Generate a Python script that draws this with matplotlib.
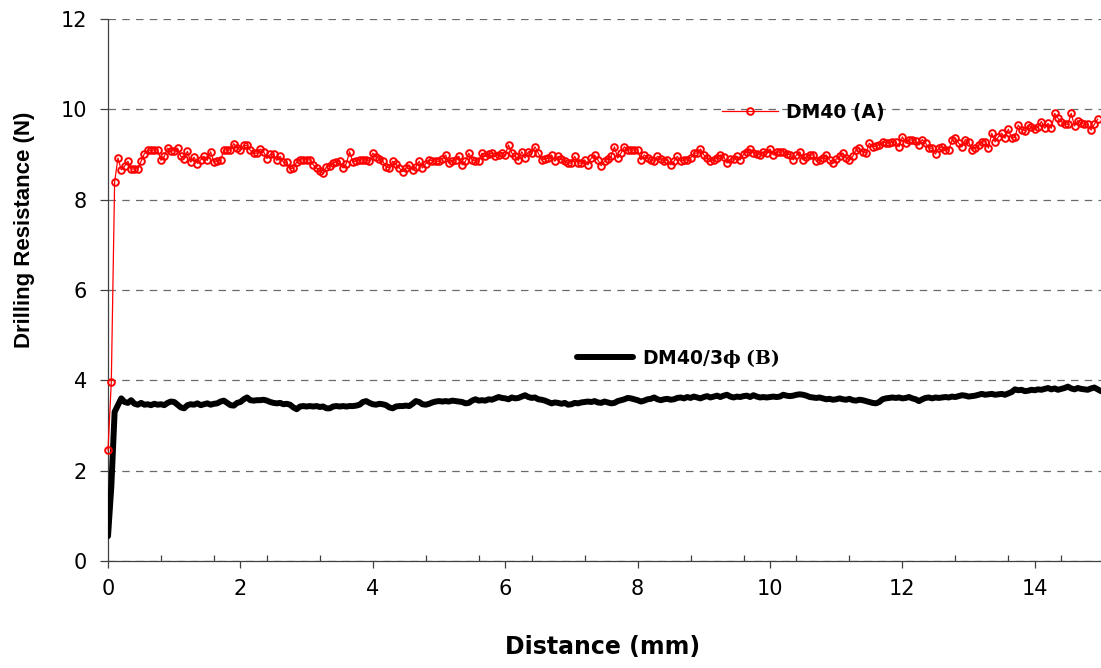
import numpy as np
import matplotlib
matplotlib.use("Agg")
import matplotlib.pyplot as plt
from matplotlib.ticker import MultipleLocator

plt.rcParams['font.family'] = ['DejaVu Sans']
plt.rcParams['mathtext.fontset'] = 'custom'
plt.rcParams['mathtext.bf'] = 'DejaVu Serif:bold'
plt.rcParams['mathtext.rm'] = 'DejaVu Serif'

STEP_MM = 0.05  # sampling step of the drilling record

# DM40 (A), one row per mm
resist_a = [
    2.45, 3.97, 8.39, 8.92, 8.66, 8.74, 8.85, 8.68, 8.68, 8.68, 8.85, 9.02, 9.09, 9.10, 9.10, 9.10, 8.87, 8.96, 9.14, 9.08,
    9.08, 9.14, 8.96, 8.91, 9.07, 8.83, 8.94, 8.80, 8.88, 8.96, 8.87, 9.06, 8.83, 8.85, 8.87, 9.10, 9.10, 9.10, 9.24, 9.15,
    9.09, 9.20, 9.20, 9.09, 9.03, 9.03, 9.12, 9.06, 8.91, 9.00, 9.00, 8.87, 8.96, 8.83, 8.83, 8.68, 8.70, 8.83, 8.88, 8.88,
    8.88, 8.88, 8.77, 8.70, 8.64, 8.58, 8.73, 8.75, 8.81, 8.83, 8.85, 8.70, 8.80, 9.06, 8.83, 8.86, 8.88, 8.88, 8.88, 8.85,
    9.03, 8.95, 8.90, 8.85, 8.73, 8.70, 8.85, 8.78, 8.70, 8.62, 8.70, 8.77, 8.66, 8.72, 8.85, 8.70, 8.80, 8.88, 8.86, 8.85,
    8.85, 8.90, 8.99, 8.81, 8.85, 8.88, 8.96, 8.77, 8.85, 9.03, 8.88, 8.85, 8.85, 9.03, 8.96, 9.00, 9.03, 8.96, 8.99, 9.03,
    8.99, 9.21, 9.03, 8.96, 8.87, 9.06, 8.92, 9.06, 9.03, 9.17, 9.03, 8.88, 8.90, 8.92, 8.99, 8.85, 8.96, 8.90, 8.85, 8.81,
    8.81, 8.96, 8.81, 8.81, 8.88, 8.77, 8.92, 8.99, 8.88, 8.75, 8.85, 8.90, 8.96, 9.17, 8.92, 9.03, 9.17, 9.10, 9.10, 9.10,
    9.10, 8.88, 8.99, 8.92, 8.88, 8.85, 8.96, 8.90, 8.85, 8.88, 8.77, 8.85, 8.96, 8.85, 8.88, 8.88, 8.92, 9.03, 9.03, 9.12,
    8.99, 8.92, 8.85, 8.88, 8.92, 8.99, 8.95, 8.81, 8.90, 8.90, 8.96, 8.88, 9.00, 9.06, 9.12, 9.03, 9.00, 8.99, 9.06, 9.03,
    9.12, 8.99, 9.06, 9.05, 9.06, 9.02, 8.99, 8.88, 8.99, 9.06, 8.88, 8.95, 8.99, 8.99, 8.85, 8.88, 8.92, 8.99, 8.88, 8.81,
    8.90, 8.96, 9.03, 8.92, 8.88, 8.96, 9.10, 9.14, 9.06, 9.03, 9.25, 9.17, 9.19, 9.21, 9.28, 9.26, 9.25, 9.27, 9.28, 9.17,
    9.39, 9.25, 9.32, 9.32, 9.30, 9.21, 9.33, 9.25, 9.14, 9.14, 9.01, 9.14, 9.17, 9.10, 9.10, 9.32, 9.36, 9.25, 9.17, 9.33,
    9.28, 9.10, 9.15, 9.21, 9.28, 9.28, 9.14, 9.47, 9.28, 9.39, 9.47, 9.36, 9.56, 9.36, 9.38, 9.65, 9.55, 9.53, 9.65, 9.60,
    9.56, 9.61, 9.73, 9.58, 9.69, 9.58, 9.91, 9.80, 9.73, 9.67, 9.67, 9.91, 9.63, 9.75, 9.69, 9.67, 9.67, 9.54, 9.67, 9.78,
]

# DM40/3phi (B), one row per mm
resist_b = [
    0.55, 1.65, 3.30, 3.45, 3.60, 3.52, 3.50, 3.56, 3.48, 3.46, 3.50, 3.46, 3.47, 3.45, 3.48, 3.46, 3.47, 3.45, 3.50, 3.53,
    3.52, 3.46, 3.40, 3.38, 3.45, 3.47, 3.46, 3.49, 3.45, 3.47, 3.49, 3.46, 3.48, 3.49, 3.53, 3.55, 3.50, 3.45, 3.44, 3.50,
    3.52, 3.58, 3.62, 3.56, 3.55, 3.56, 3.56, 3.57, 3.55, 3.52, 3.50, 3.49, 3.50, 3.47, 3.48, 3.46, 3.40, 3.36, 3.42, 3.43,
    3.42, 3.43, 3.42, 3.43, 3.41, 3.42, 3.38, 3.38, 3.42, 3.43, 3.42, 3.43, 3.42, 3.43, 3.43, 3.44, 3.46, 3.52, 3.54, 3.50,
    3.47, 3.46, 3.48, 3.47, 3.45, 3.40, 3.38, 3.42, 3.43, 3.43, 3.44, 3.43, 3.48, 3.54, 3.52, 3.47, 3.46, 3.48, 3.51, 3.53,
    3.54, 3.53, 3.54, 3.53, 3.55, 3.54, 3.53, 3.52, 3.49, 3.50, 3.55, 3.58, 3.55, 3.56, 3.55, 3.58, 3.57, 3.60, 3.63, 3.61,
    3.60, 3.58, 3.62, 3.60, 3.61, 3.64, 3.67, 3.63, 3.61, 3.62, 3.58, 3.57, 3.55, 3.52, 3.49, 3.51, 3.50, 3.48, 3.50, 3.46,
    3.47, 3.50, 3.49, 3.51, 3.52, 3.53, 3.52, 3.54, 3.51, 3.50, 3.53, 3.51, 3.49, 3.50, 3.54, 3.56, 3.58, 3.61, 3.60, 3.58,
    3.56, 3.53, 3.55, 3.58, 3.59, 3.62, 3.58, 3.56, 3.58, 3.59, 3.57, 3.58, 3.61, 3.62, 3.60, 3.63, 3.61, 3.64, 3.62, 3.60,
    3.63, 3.65, 3.62, 3.64, 3.66, 3.63, 3.66, 3.68, 3.64, 3.62, 3.64, 3.63, 3.65, 3.66, 3.63, 3.67, 3.64, 3.62, 3.63, 3.62,
    3.63, 3.64, 3.63, 3.64, 3.68, 3.66, 3.65, 3.66, 3.68, 3.69, 3.68, 3.66, 3.63, 3.62, 3.61, 3.62, 3.60, 3.58, 3.59, 3.57,
    3.58, 3.60, 3.58, 3.57, 3.59, 3.56, 3.55, 3.57, 3.56, 3.54, 3.52, 3.50, 3.49, 3.52, 3.58, 3.60, 3.61, 3.62, 3.61, 3.62,
    3.60, 3.61, 3.63, 3.60, 3.58, 3.54, 3.58, 3.61, 3.62, 3.60, 3.62, 3.61, 3.62, 3.63, 3.62, 3.64, 3.63, 3.65, 3.67, 3.66,
    3.64, 3.65, 3.66, 3.68, 3.70, 3.68, 3.69, 3.70, 3.68, 3.69, 3.70, 3.68, 3.71, 3.74, 3.80, 3.78, 3.79, 3.76, 3.77, 3.79,
    3.78, 3.80, 3.79, 3.81, 3.83, 3.80, 3.82, 3.79, 3.81, 3.83, 3.86, 3.82, 3.80, 3.83, 3.81, 3.80, 3.79, 3.82, 3.84, 3.80,
    3.76,
]

LABEL_A = "DM40 (A)"
LABEL_B = r"DM40/3$\mathbf{\phi\ (B)}$"
X_TICKS = [0, 2, 4, 6, 8, 10, 12, 14]
Y_TICKS = [0, 2, 4, 6, 8, 10, 12]

dist_a = np.arange(len(resist_a)) * STEP_MM
dist_b = np.arange(len(resist_b)) * STEP_MM

fig = plt.figure(figsize=(11.01, 6.68), dpi=100)
ax = fig.add_axes([0.0981, 0.1602, 0.9019, 0.8114])

line_b, = ax.plot(dist_b, resist_b, color='black', lw=4.3,
                  solid_joinstyle='round', solid_capstyle='round', zorder=3)
line_a, = ax.plot(dist_a, resist_a, color='#ff0000', lw=0.9, marker='o',
                  ms=4.8, mfc='none', mec='#ff0000', mew=1.4, clip_on=False, zorder=4)

ax.set_xlim(0, 15)
ax.set_ylim(0, 12)
ax.set_xticks(X_TICKS)
ax.set_yticks(Y_TICKS)
ax.xaxis.set_minor_locator(MultipleLocator(0.8))

ax.yaxis.grid(True, linestyle=(0, (6, 5)), color='#6a6a6a', lw=0.9)
ax.set_axisbelow(True)

for s in ['top', 'right']:
    ax.spines[s].set_visible(False)
for s in ['left', 'bottom']:
    ax.spines[s].set_color('#404040')
    ax.spines[s].set_linewidth(0.9)

ax.tick_params(axis='y', which='major', direction='out', length=6, width=0.9,
               color='#404040', labelsize=15, pad=9)
ax.tick_params(axis='x', which='major', direction='out', length=5, width=0.9,
               color='#404040', labelsize=15, pad=8)
ax.tick_params(axis='x', which='minor', direction='in', length=4, width=0.9,
               color='#404040')

fig.text(603 / 1101, 1 - 647 / 668, "Distance (mm)", ha='center', va='center',
         fontsize=17, fontweight='bold')
fig.text(25 / 1101, 1 - 230 / 668, "Drilling Resistance (N)", ha='center', va='center',
         rotation=90, fontsize=16, fontweight='bold', family='Liberation Sans')

leg_kw = dict(loc='center left', frameon=False, borderpad=0, borderaxespad=0,
              handlelength=3.0, handletextpad=0.45,
              prop={'weight': 'bold', 'size': 13.5})
leg_a = ax.legend([line_a], [LABEL_A], bbox_to_anchor=(0.618, 0.828), **leg_kw)
ax.add_artist(leg_a)
ax.legend([line_b], [LABEL_B], bbox_to_anchor=(0.4723, 0.3745), **leg_kw)

fig.savefig("out.png", dpi=100)
